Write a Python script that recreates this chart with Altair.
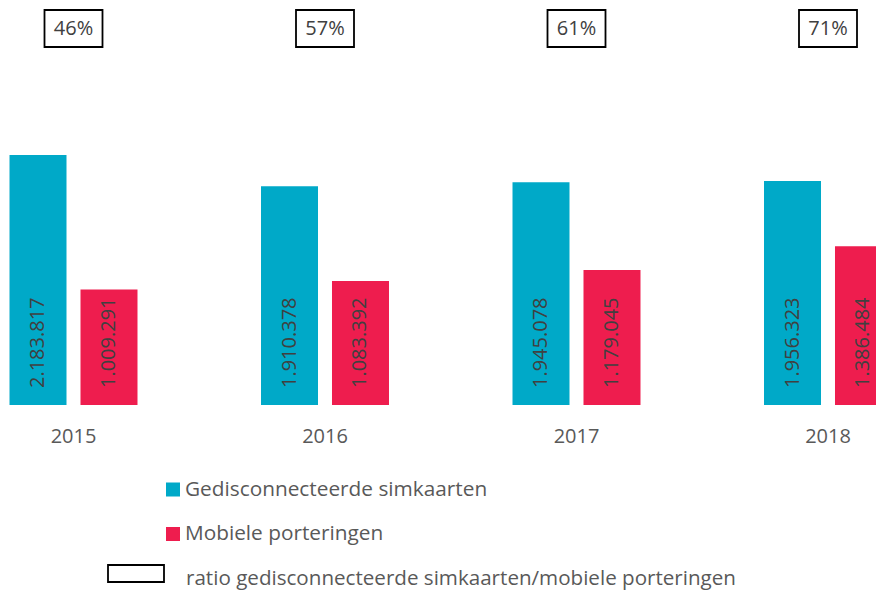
import altair as alt
import pandas as pd

years = ["2015", "2016", "2017", "2018"]
simkaarten = [2183817, 1910378, 1945078, 1956323]
porteringen = [1009291, 1083392, 1179045, 1386484]
ratio_labels = ["46%", "57%", "61%", "71%"]
series_names = ["Gedisconnecteerde simkaarten", "Mobiele porteringen"]
ratio_name = "ratio gedisconnecteerde simkaarten/mobiele porteringen"
colors = ["#00A9C8", "#EE1D4E"]

FONT = "Open Sans"
TXT = "#595959"
DARK = "#404040"

rows = []
for y, a, b in zip(years, simkaarten, porteringen):
    rows.append({"year": y, "series": series_names[0], "value": a})
    rows.append({"year": y, "series": series_names[1], "value": b})
bars_df = pd.DataFrame(rows)
ratio_df = pd.DataFrame({"year": years, "ratio": ratio_labels})

xscale = alt.Scale(domain=years, range=[-60.25, 945.75], paddingInner=0, paddingOuter=0)
xoff = alt.Scale(domain=series_names, paddingInner=0.197, paddingOuter=0.87)
yscale = alt.Scale(domain=[0, 3468000], range=[397, 0])
cscale = alt.Scale(domain=series_names, range=colors)

X = alt.X("year:N", scale=xscale, axis=None)
XO = alt.XOffset("series:N", scale=xoff, sort=series_names)

base = alt.Chart(bars_df)

bars = base.mark_bar(width=57).encode(
    x=X, xOffset=XO,
    y=alt.Y("value:Q", scale=yscale, axis=None),
    color=alt.Color("series:N", scale=cscale, legend=None),
)

labels = base.transform_calculate(
    lbl="replace(format(datum.value, ','), regexp(',', 'g'), '.')"
).mark_text(angle=270, align="left", baseline="middle", font=FONT, fontSize=20, color=DARK).encode(
    x=X, xOffset=XO, y=alt.value(380), text="lbl:N"
)

yr = alt.Chart(ratio_df).mark_text(font=FONT, fontSize=20, color=TXT, baseline="middle").encode(
    x=X, y=alt.value(429), text="year:N"
)

boxes = alt.Chart(ratio_df).mark_bar(width=58, fill="white", stroke="#000000", strokeWidth=1.8).encode(
    x=X, y=alt.value(2), y2=alt.value(39)
)
box_txt = alt.Chart(ratio_df).mark_text(font=FONT, fontSize=20, color=DARK, baseline="middle").encode(
    x=X, y=alt.value(21), text="ratio:N"
)

leg_df = pd.DataFrame({"series": series_names})
leg1_sq = alt.Chart(leg_df).transform_filter(alt.datum.series == series_names[0]).mark_square(size=196, opacity=1).encode(
    x=alt.value(165), y=alt.value(481.5), color=alt.Color("series:N", scale=cscale, legend=None)
)
leg2_sq = alt.Chart(leg_df).transform_filter(alt.datum.series == series_names[1]).mark_square(size=196, opacity=1).encode(
    x=alt.value(165), y=alt.value(526), color=alt.Color("series:N", scale=cscale, legend=None)
)
leg1_t = alt.Chart(leg_df).transform_filter(alt.datum.series == series_names[0]).mark_text(
    align="left", baseline="middle", font=FONT, fontSize=20.8, color=TXT
).encode(x=alt.value(177), y=alt.value(482), text="series:N")
leg2_t = alt.Chart(leg_df).transform_filter(alt.datum.series == series_names[1]).mark_text(
    align="left", baseline="middle", font=FONT, fontSize=20.8, color=TXT
).encode(x=alt.value(177), y=alt.value(526), text="series:N")

leg3_df = pd.DataFrame({"name": [ratio_name]})
leg3_box = alt.Chart(leg3_df).mark_rect(fill="white", stroke="#000000", strokeWidth=1.8).encode(
    x=alt.value(100), x2=alt.value(156), y=alt.value(557), y2=alt.value(574)
)
leg3_t = alt.Chart(leg3_df).mark_text(
    align="left", baseline="alphabetic", font=FONT, fontSize=20.6, color=TXT
).encode(x=alt.value(178), y=alt.value(577), text="name:N")

chart = alt.layer(
    bars, labels, yr, boxes, box_txt, leg1_sq, leg2_sq, leg1_t, leg2_t, leg3_box, leg3_t
).properties(
    width=868, height=583, padding=0,
    autosize=alt.AutoSizeParams(type="none"),
).configure_view(stroke=None).resolve_scale(color="shared")

chart.save("out.html", embed_options={"renderer": "svg", "actions": False})
